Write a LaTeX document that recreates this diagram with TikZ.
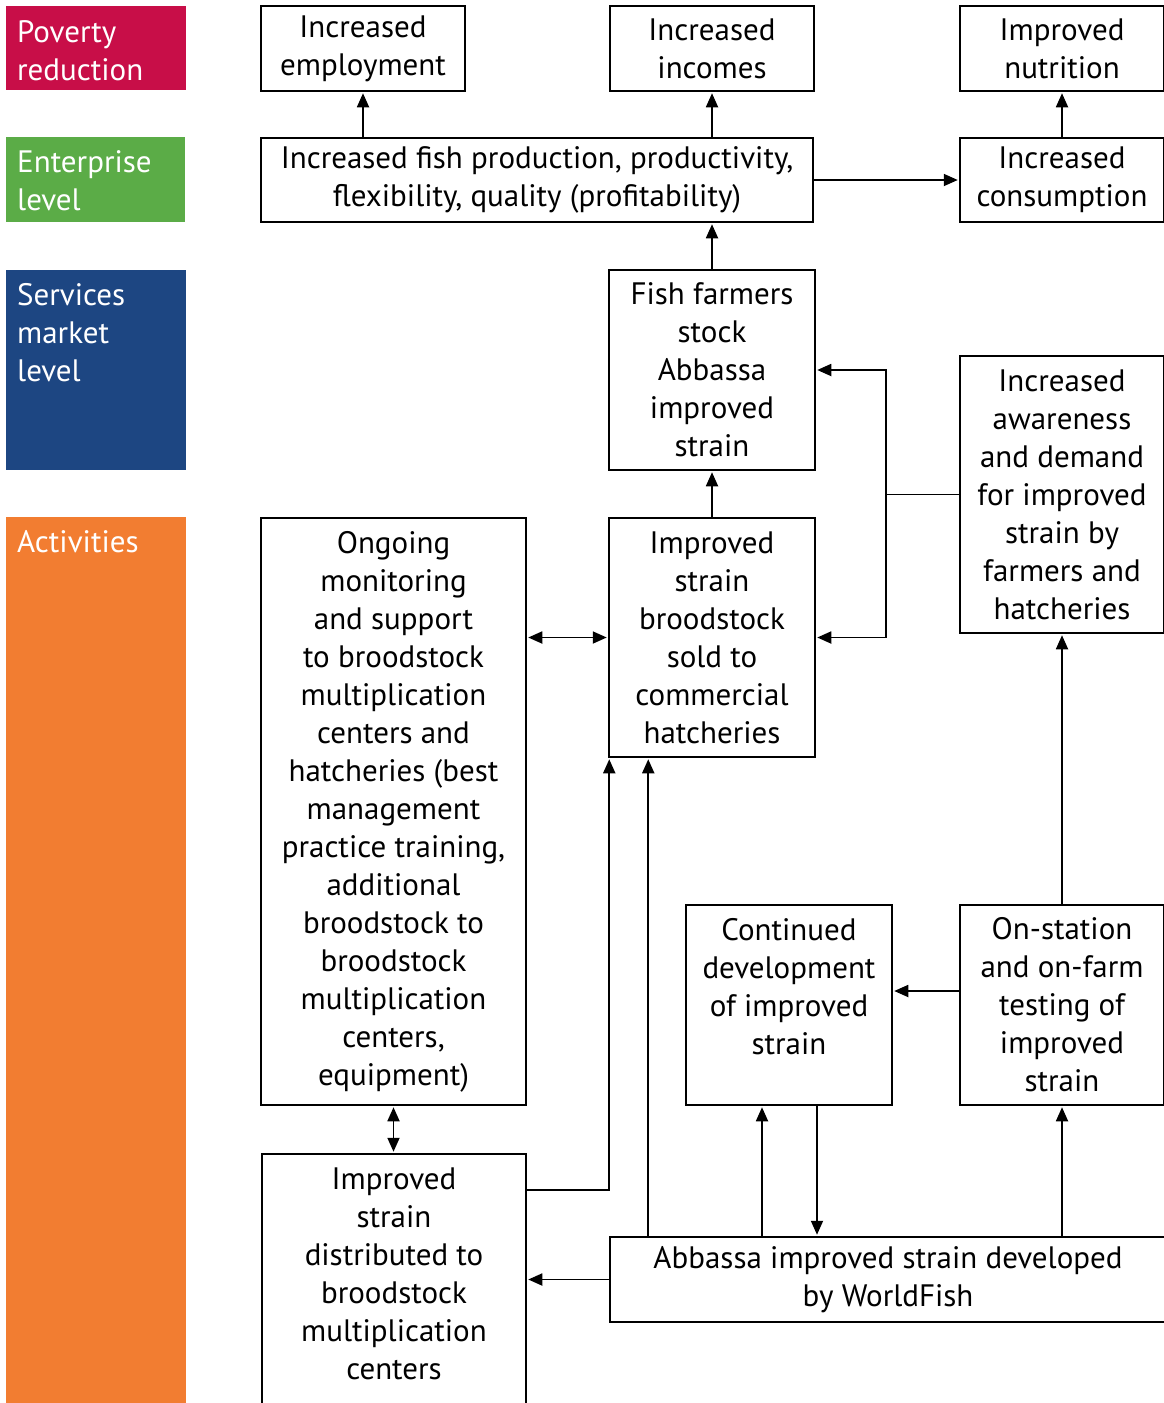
\documentclass[tikz,border=0pt]{standalone}
\usepackage{fontspec}
\setmainfont{PT Sans}
\usetikzlibrary{arrows.meta}

\definecolor{povcol}{RGB}{200,14,72}
\definecolor{entcol}{RGB}{91,172,71}
\definecolor{sercol}{RGB}{29,70,130}
\definecolor{actcol}{RGB}{242,125,49}

\begin{document}
\begin{tikzpicture}
  [x=1pt,y=-1pt,
   every node/.style={font=\fontsize{31}{38}\selectfont},
   box/.style={draw,line width=1.5pt,align=center,inner sep=0pt},
   tag/.style={anchor=base west,inner sep=0pt,text=white},
   arr/.style={line width=1.8pt,-{Triangle[length=14pt,width=12pt]},shorten >=1.5pt},
   darr/.style={line width=1.8pt,{Triangle[length=14pt,width=12pt]}-{Triangle[length=14pt,width=12pt]},shorten >=1.5pt,shorten <=1.5pt}]
  \useasboundingbox (0,0) rectangle (1163,1403);

  % level bars
  \fill[povcol] (6,6) rectangle (186,90);
  \fill[entcol] (6,137) rectangle (185,222);
  \fill[sercol] (6,270) rectangle (186,470);
  \fill[actcol] (6,517) rectangle (186,1403);
  \node[tag] (pov) at (17,42) {\parbox[t]{165pt}{\raggedright Poverty\\reduction}};
  \node[tag] (ent) at (17,172) {\parbox[t]{165pt}{\raggedright Enterprise\\level}};
  \node[tag] (ser) at (17,305) {\parbox[t]{165pt}{\raggedright Services\\market\\level}};
  \node[tag] (act) at (17,552) {Activities};

  % boxes
  \node[box,minimum width=204,minimum height=85] (emp) at (363,48.5) {Increased\\employment};
  \node[box,minimum width=204,minimum height=85] (inc) at (712,48.5) {Increased\\incomes};
  \node[box,minimum width=204,minimum height=85] (nut) at (1062,48.5) {Improved\\nutrition};
  \node[box,minimum width=552,minimum height=84] (prod) at (537,180) {Increased fish production, productivity,\\flexibility, quality (profitability)};
  \node[box,minimum width=204,minimum height=84] (cons) at (1062,180) {Increased\\consumption};
  \node[box,minimum width=206,minimum height=200] (farm) at (712,370) {Fish farmers\\stock\\Abbassa\\improved\\strain};
  \node[box,minimum width=204,minimum height=277] (aware) at (1062,494.5) {Increased\\awareness\\and demand\\for improved\\strain by\\farmers and\\hatcheries};
  \node[box,minimum width=265,minimum height=587] (ongo) at (393.5,811.5) {Ongoing\\monitoring\\and support\\to broodstock\\multiplication\\centers and\\hatcheries (best\\management\\practice training,\\additional\\broodstock to\\broodstock\\multiplication\\centers,\\equipment)};
  \node[box,minimum width=206,minimum height=239] (sold) at (712,637.5) {Improved\\strain\\broodstock\\sold to\\commercial\\hatcheries};
  \node[box,minimum width=206,minimum height=200] (cont) at (789,1005) {Continued\\development\\of improved\\strain\\\mbox{}};
  \node[box,minimum width=204,minimum height=200] (test) at (1062,1005) {On-station\\and on-farm\\testing of\\improved\\strain};
  \node[box,minimum width=264,minimum height=260] (dist) at (394,1284) {Improved\\strain\\distributed to\\broodstock\\multiplication\\centers\\[-18pt]\mbox{}};
  \node[box,minimum width=556,minimum height=85] (dev) at (888,1279.5) {Abbassa improved strain developed\\by WorldFish};

  \coordinate (bend) at (886,0);
  \coordinate (c1) at ([xshift=-27]cont.south);
  \coordinate (c2) at ([xshift=28]cont.south);
  \coordinate (s1) at ([xshift=1]sold.south west);
  \coordinate (s2) at ([xshift=40]sold.south west);

  % arrows
  \foreach \from/\to in {prod.east/cons.west,cons.north/nut.south,farm.north/prod.south-|farm.north,
      sold.north/farm.south,test.north/aware.south,test.south|-dev.north/test.south,
      c1|-dev.north/c1,c2/c2|-dev.north,dev.west/dev.west-|dist.east,
      prod.north-|emp.south/emp.south,prod.north-|inc.south/inc.south,
      s2|-dev.north/s2}
    \draw[arr] (\from) -- (\to);
  \draw[arr] ([yshift=14]test.west) -- ([yshift=14]cont.east);
  \draw[arr] (aware.west) -- (aware.west -| bend) |- (farm.east);
  \draw[arr] (aware.west -| bend) |- (sold.east);
  \draw[arr] ([yshift=-37]dist.north east) -| (s1);
  \draw[darr] (ongo.east |- sold.west) -- (sold.west);
  \draw[darr] (ongo.south) -- (dist.north -| ongo.south);
\end{tikzpicture}
\end{document}
